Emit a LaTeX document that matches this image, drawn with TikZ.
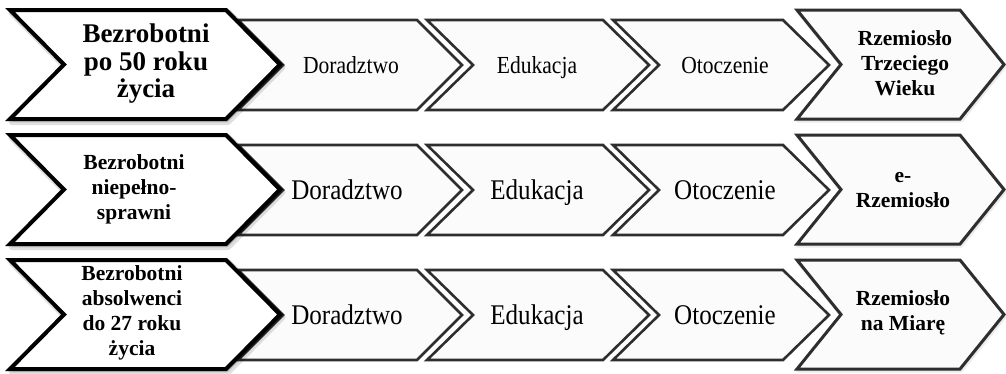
\documentclass[tikz,border=0pt]{standalone}
\usepackage{fontspec}
\setmainfont{Liberation Serif}
\newfontfamily\condserif[FakeStretch=0.88]{Liberation Serif}
\definecolor{edge}{HTML}{2E2E2E}
\definecolor{paper}{HTML}{FBFBFB}
\newcommand\chevron[6]{% style, xleft, xright, depth, top, bottom
  \draw[#1] (#2,#5) -- (#3,#5) -- ({#3+#4},{(#5+#6)/2}) -- (#3,#6) -- (#2,#6) -- ({#2+#4},{(#5+#6)/2}) -- cycle;}
\begin{document}
\begin{tikzpicture}[x=1pt,y=-1pt,
  shade1/.style={draw=black,fill=black,line width=7pt,opacity=0.12,line join=round,shift={(2,2.5)}},
  shade2/.style={draw=black,fill=black,line width=4pt,opacity=0.08,line join=round,shift={(1,1.5)}},
  headbox/.style={draw=black,line width=4pt,fill=white,line join=miter},
  midbox/.style={draw=edge,line width=2.6pt,fill=paper,line join=miter},
  endbox/.style={draw=edge,line width=3pt,fill=paper,line join=miter},
  headtext/.style={align=center,font=\fontsize{27}{27.5}\selectfont\bfseries,inner sep=0pt},
  headtextb/.style={align=center,font=\fontsize{21.5}{25}\selectfont\bfseries,inner sep=0pt},
  midtext/.style={anchor=base,font=\condserif\fontsize{24.5}{26}\selectfont,inner sep=0pt},
  midtextb/.style={anchor=base,font=\condserif\fontsize{28.5}{30}\selectfont,inner sep=0pt},
  endtext/.style={align=center,font=\fontsize{21.5}{25}\selectfont\bfseries,inner sep=0pt},
]
\useasboundingbox (0,0) rectangle (1006,373);
\foreach \r in {0,1,2}{
  \pgfmathsetmacro\T{10+125*\r}
  \pgfmathsetmacro\B{\T+109}
  \pgfmathsetmacro\t{\T+10}
  \pgfmathsetmacro\b{\T+100}
  \chevron{shade2}{797}{960}{44}{\T}{\B}
  \chevron{endbox}{797}{960}{44}{\T}{\B}
  \chevron{midbox}{613}{783}{46}{\t}{\b}
  \chevron{midbox}{427}{603}{46}{\t}{\b}
  \chevron{midbox}{238}{417}{45}{\t}{\b}
  \chevron{shade1}{10}{226}{54}{\T}{\B}
  \chevron{shade2}{10}{226}{54}{\T}{\B}
  \chevron{headbox}{10}{226}{54}{\T}{\B}
}
% row 1
\node[headtext] (h1) at (146,64) {Bezrobotni\\po 50 roku\\życia};
\node[midtext] (d1) at (351,73) {Doradztwo};
\node[midtext] (e1) at (537,73) {Edukacja};
\node[midtext] (o1) at (725,73) {Otoczenie};
\node[endtext] (r1) at (905,63) {Rzemiosło\\Trzeciego\\Wieku};
% row 2
\node[headtextb] (h2) at (134,189) {Bezrobotni\\niepełno-\\sprawni};
\node[midtextb] (d2) at (347,199) {Doradztwo};
\node[midtextb] (e2) at (537,199) {Edukacja};
\node[midtextb] (o2) at (725,199) {Otoczenie};
\node[endtext] (r2) at (903,190) {e-\\Rzemiosło};
% row 3
\node[headtextb] (h3) at (132,313) {Bezrobotni\\absolwenci\\do 27 roku\\życia};
\node[midtextb] (d3) at (347,324) {Doradztwo};
\node[midtextb] (e3) at (537,324) {Edukacja};
\node[midtextb] (o3) at (725,324) {Otoczenie};
\node[endtext] (r3) at (903,313) {Rzemiosło\\na Miarę};
\end{tikzpicture}
\end{document}
